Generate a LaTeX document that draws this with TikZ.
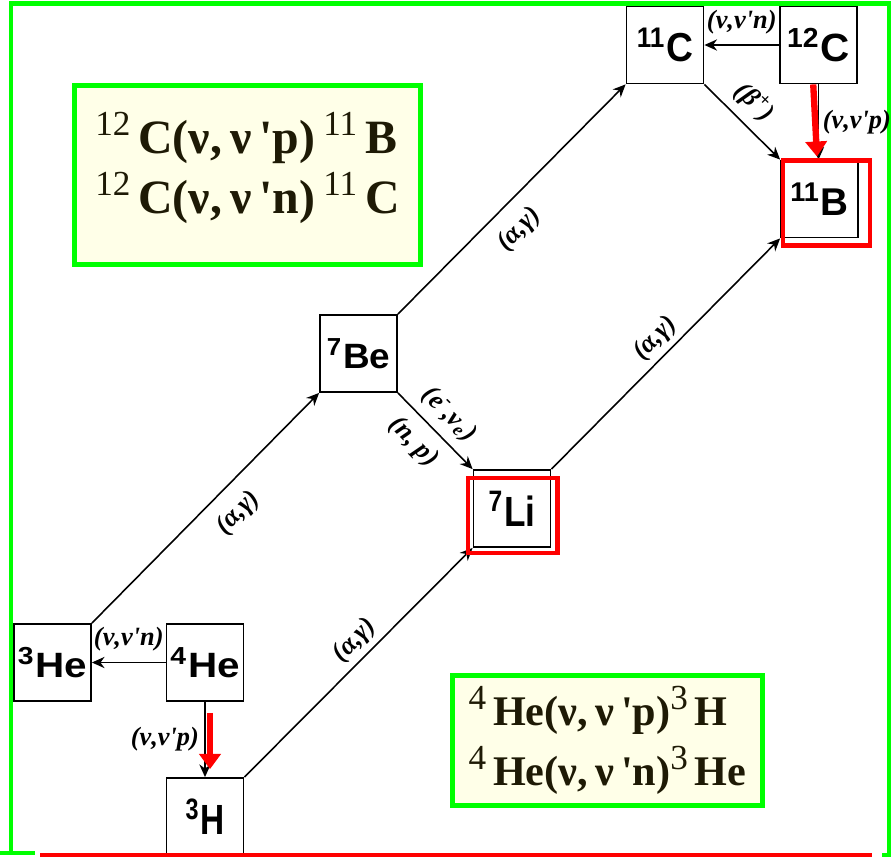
\documentclass[tikz,border=0pt]{standalone}
\usepackage{fontspec}
\setmainfont{Liberation Serif}
\newfontfamily\arialfont{Liberation Sans}
\newfontfamily\timesfont{Liberation Serif}
\usepackage{graphicx}
\usetikzlibrary{arrows.meta,positioning}

\definecolor{framegreen}{HTML}{00FF00}
\definecolor{boxfill}{HTML}{FFFFE8}
\definecolor{boxtext}{HTML}{1E1A05}

% nucleus label, squeezed like the drawing
\newcommand{\nucl}[4]{\scalebox{#1}[#2]{\textsuperscript{#3}#4}}
% superscript in the reaction boxes
\newcommand{\upiso}[1]{\raisebox{0.38em}{\fontsize{10}{10}\selectfont\mdseries #1}}

\begin{document}
\begin{tikzpicture}[
    x=0.01cm, y=-0.01cm,
    nuc/.style={draw, line width=0.5pt, minimum size=0.77cm, inner sep=0pt, font=\arialfont\bfseries\fontsize{10}{12}\selectfont},
    arr/.style={-{Stealth[length=3.6pt, width=3.2pt]}, line width=0.45pt},
    hot/.style={-{Triangle[length=4.3pt, width=6pt]}, line width=1.8pt, red},
    hl/.style={draw=red, line width=1.2pt},
    lab/.style={font=\timesfont\bfseries\itshape\fontsize{7.5}{9}\selectfont, inner sep=1pt},
    info/.style={draw=framegreen, line width=1.4pt, fill=boxfill, text=boxtext, align=left, inner sep=0pt}
]
\useasboundingbox (0,0) rectangle (894,857);

% frame
\draw[framegreen, line width=1.3pt] (11,853) -- (11,3.5) -- (889,3.5) -- (889,855) -- (882,855);
\draw[framegreen, line width=1.3pt] (0,853) -- (35,853);

% reaction boxes
\node[info, minimum width=3.46cm, minimum height=1.79cm, text depth=7pt, font=\timesfont\bfseries\fontsize{13.6}{17}\selectfont] (cbox) at (247.5,175)
    {\upiso{12}\,C(ν,\,ν\,'p)\,\upiso{11}\,B\\\upiso{12}\,C(ν,\,ν\,'n)\,\upiso{11}\,C};
\node[info, minimum width=3.10cm, minimum height=1.30cm, font=\timesfont\bfseries\fontsize{12}{17}\selectfont] (hebox) at (607.5,740.5)
    {\upiso{4}\,He(ν,\,ν\,'p)\upiso{3}\,H\\\upiso{4}\,He(ν,\,ν\,'n)\upiso{3}\,He};

% nuclei
\node[nuc] (he3) at (52.5,662.5) {\nucl{1.15}{1.0}{3}{He}};
\node[nuc] (he4) at (205,662.5) {\nucl{1.15}{1.0}{4}{He}};
\node[nuc] (h3) at (205,816.5) {\nucl{0.95}{1.2}{3}{H}};
\node[nuc] (be7) at (358.5,353.5) {\nucl{1.05}{1.0}{7}{Be}};
\node[nuc] (li7) at (512,508.5) {\nucl{1.0}{1.2}{7}{Li}};
\node[nuc] (c11) at (665,45) {\nucl{1.06}{1.15}{11}{C}};
\node[nuc] (c12) at (818.5,45) {\nucl{1.15}{1.12}{12}{C}};
\node[nuc] (b11) at (819.5,199) {\nucl{1.1}{1.1}{11}{B}};

% reactions
\draw[arr] (he3.north east) -- (be7.south west) node[lab, sloped, pos=0.56, below=3pt] {(α,γ)};
\draw[arr] (be7.north east) -- (c11.south west) node[lab, sloped, pos=0.45, below=3pt] {(α,γ)};
\draw[arr] (h3.north east) -- (li7.south west) node[lab, sloped, pos=0.54, above=0.5pt] {(α,γ)};
\draw[arr] (li7.north east) -- (b11.south west) node[lab, sloped, pos=0.51, above=0.5pt] {(α,γ)};
\draw[arr] (be7.south east) -- (li7.north west)
    node[lab, sloped, pos=0.48, above=1.4pt] {(e\textsuperscript{-},ν\textsubscript{e})}
    node[lab, sloped, pos=0.43, below=2pt] {(n, p)};
\draw[arr] (c11.south east) -- (b11.north west) node[lab, sloped, pos=0.45, above=1.5pt] {(β\textsuperscript{+})};
\draw[arr] (c12.west) -- (c11.east) node[lab, midway, above=2pt] {(ν,ν'n)};
\draw[arr] (he4.west) -- (he3.east) node[lab, midway, above=2pt] {(ν,ν'n)};
\draw[arr] (he4.south) -- (h3.north) node[lab, midway, left=0.5pt] {(ν,ν'p)};
\draw[arr] (c12.south) -- (c12.south |- b11.north) node[lab, midway, right=0pt] {(ν,ν'p)};

% neutrino hits
\draw[hot] ([xshift=-1.5]c12.south) -- ([shift={(-1.5,-3)}]c12.south |- b11.north);
\draw[hot] ([shift={(5,11)}]he4.south) -- ([shift={(5,-8)}]he4.south |- h3.north);
\draw[hl] ([shift={(3,7)}]b11.south west) rectangle ([shift={(11,1)}]b11.north east);
\draw[hl] ([shift={(-4.5,5)}]li7.south west) rectangle ([shift={(6,9)}]li7.north east);

% bottom edge
\draw[red, line width=1.3pt] (40,855) -- (872,855);
\end{tikzpicture}
\end{document}
